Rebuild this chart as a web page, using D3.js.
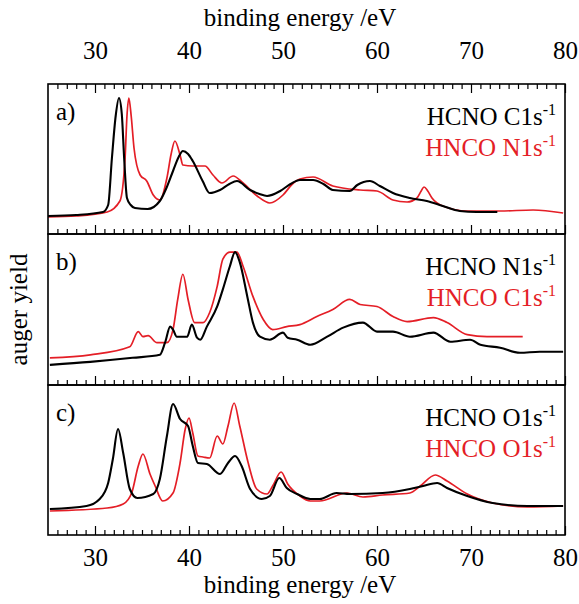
<!DOCTYPE html>
<html>
<head>
<meta charset="utf-8">
<script src="https://cdn.jsdelivr.net/npm/d3@7"></script>
<style>
  body { margin: 0; background: #fff; }
  svg text { font-family: "Liberation Serif", "Times New Roman", serif; fill: #000; }
</style>
</head>
<body>
<div id="chart"></div>
<script>
// tick labels
var majorTicks = [30, 40, 50, 60, 70, 80];

// a) HCNO C1s-1 (black) / HNCO N1s-1 (red)
var aBlackE = [25, 28, 30.85, 31.4, 31.8, 32.2, 32.55, 32.85, 33.1, 33.4, 33.8, 34.25, 35.6, 36.9, 37.6, 38.3, 38.9, 39.35, 39.9, 40.4, 41.45, 42.2, 43.3, 44.3, 45.1, 46.5, 47.5, 48.3, 49.7, 50.8, 51.8, 53.2, 54.3, 55.3, 57.1, 57.9, 59.25, 60.3, 61.7, 63.5, 65.3, 67.0, 68.8, 70.6, 72.8];
var aBlackY = [18, 19, 22, 29, 76, 118, 136, 120, 76, 36, 29, 26, 25, 33, 46, 63, 77, 83, 80, 73, 53, 41, 44, 50, 53, 44, 40, 38, 43, 50, 54, 54, 50, 44, 43, 49, 53, 48, 41, 36, 33, 28, 23, 22, 22];
var aRedE = [25, 28, 31.3, 32.65, 33.2, 33.4, 33.6, 33.85, 34.15, 34.8, 35.5, 36.2, 36.9, 37.65, 38.1, 38.5, 39.05, 39.35, 40.4, 41.7, 42.55, 43.5, 44.7, 45.75, 47.25, 48.6, 50.0, 51.0, 51.8, 53.2, 55.3, 58.2, 60.0, 61.7, 63.2, 64.25, 64.7, 65.0, 65.4, 65.85, 67.0, 69.6, 73.1, 76.6, 79.8];
var aRedY = [17, 18, 22, 33, 76, 118, 136, 118, 86, 59, 53, 39, 34, 56, 80, 93, 79, 69, 68, 68, 59, 51, 58, 51, 38, 31, 39, 50, 55, 57, 48, 44, 43, 34, 32, 36, 43, 47, 43, 36, 28, 23, 23, 24, 21];

// b) HCNO N1s-1 (black) / HNCO C1s-1 (red)
var bBlackE = [25.2, 29.5, 34.0, 36.9, 37.45, 38.0, 38.3, 38.7, 39.8, 40.3, 40.85, 41.2, 41.9, 43.0, 43.6, 44.35, 44.9, 45.4, 46.2, 46.8, 47.55, 48.6, 50.0, 50.5, 51.5, 52.9, 54.7, 56.4, 58.5, 60.0, 61.7, 63.5, 66.0, 67.8, 69.9, 71.0, 73.1, 75.2, 77.3, 79.8];
var bBlackY = [20, 23, 27, 30, 42, 58, 55, 48, 48, 60, 47, 45, 58, 78, 95, 118, 132, 122, 88, 62, 48, 45, 52, 47, 45, 40, 48, 57, 62, 53, 53, 48, 52, 43, 45, 40, 37, 32, 33, 33];
var bRedE = [25.2, 29.5, 33.7, 34.6, 35.1, 35.65, 36.6, 37.65, 38.3, 38.8, 39.35, 39.9, 40.6, 41.5, 42.2, 43.0, 43.6, 44.35, 45.1, 45.75, 46.8, 47.9, 48.9, 50.4, 51.8, 53.6, 55.3, 57.1, 58.2, 60.0, 61.7, 63.2, 66.0, 67.45, 69.6, 71.7, 73.8, 75.5];
var bRedY = [27, 30, 38, 53, 48, 49, 42, 42, 55, 85, 110, 85, 62, 62, 72, 98, 125, 132, 132, 118, 88, 65, 55, 58, 60, 68, 75, 85, 80, 78, 68, 63, 67, 62, 50, 48, 48, 48];

// c) HCNO O1s-1 (black) / HNCO O1s-1 (red)
var cBlackE = [25.2, 29.1, 30.5, 31.4, 31.9, 32.45, 33.0, 33.7, 34.5, 36.2, 36.9, 37.65, 38.3, 39.05, 39.9, 40.4, 40.95, 41.9, 43.3, 44.15, 44.9, 45.6, 46.5, 47.75, 48.6, 49.6, 50.4, 51.5, 52.9, 53.9, 55.7, 57.1, 60.6, 63.5, 64.9, 66.4, 67.45, 69.6, 72.3, 76.0, 79.8];
var cBlackY = [26, 29, 36, 52, 76, 106, 82, 46, 37, 41, 56, 99, 131, 116, 109, 89, 72, 71, 61, 72, 79, 69, 46, 36, 39, 57, 47, 41, 36, 36, 42, 41, 42, 46, 49, 52, 47, 39, 32, 29, 29];
var cRedE = [25.2, 31.3, 33.0, 33.9, 34.6, 35.1, 35.85, 36.4, 37.2, 38.3, 39.05, 39.6, 40.0, 40.4, 40.95, 41.5, 42.2, 43.0, 43.6, 44.15, 44.8, 45.4, 46.3, 47.2, 48.3, 48.9, 49.8, 50.5, 51.8, 52.9, 53.9, 56.8, 58.5, 60.6, 63.5, 64.6, 66.2, 67.45, 69.6, 72.3, 76.0, 79.8];
var cRedY = [24, 27, 31, 42, 69, 81, 61, 49, 34, 42, 72, 106, 117, 102, 79, 78, 77, 99, 91, 109, 132, 109, 72, 46, 41, 49, 63, 51, 39, 34, 34, 42, 38, 40, 42, 49, 60, 54, 41, 32, 28, 29];

var panelLabels = ["a)", "b)", "c)"];
var blackNames = ["HCNO C1s", "HCNO N1s", "HCNO O1s"];
var redNames = ["HNCO N1s", "HNCO C1s", "HNCO O1s"];

var W = 579, H = 604;
var left = 48, right = 565;
var edges = [84, 234, 385, 535];
var red = "#e41e26";
var serif = "'Liberation Serif', 'Times New Roman', serif";

var svg = d3.select("#chart").append("svg")
    .attr("width", W)
    .attr("height", H);

var x = d3.scaleLinear().domain([25, 80]).range([left, right]);

var minorTicks = d3.range(26, 80).filter(function (v) { return v % 10 !== 0; });

var series = [
    [aBlackE, aBlackY, aRedE, aRedY],
    [bBlackE, bBlackY, bRedE, bRedY],
    [cBlackE, cBlackY, cRedE, cRedY]
];

series.forEach(function (s, i) {
    var top = edges[i], bottom = edges[i + 1];
    var y = d3.scaleLinear().domain([0, 150]).range([bottom, top]);
    var g = svg.append("g");

    var line = d3.line()
        .curve(d3.curveMonotoneX)
        .x(function (d) { return x(d[0]); })
        .y(function (d) { return y(d[1]); });

    // red first, black on top
    g.append("path")
        .datum(d3.zip(s[2], s[3]))
        .attr("fill", "none")
        .attr("stroke", red)
        .attr("stroke-width", 1.7)
        .attr("d", line);
    g.append("path")
        .datum(d3.zip(s[0], s[1]))
        .attr("fill", "none")
        .attr("stroke", "#000")
        .attr("stroke-width", 2.1)
        .attr("d", line);

    // bottom ticks pointing up
    var gb = g.append("g").attr("transform", "translate(0," + bottom + ")");
    gb.call(d3.axisBottom(x).tickValues(majorTicks).tickSize(-9).tickPadding(13)
        .tickFormat(i === 2 ? d3.format("d") : ""));
    gb.select(".domain").remove();
    var gbm = g.append("g").attr("transform", "translate(0," + bottom + ")");
    gbm.call(d3.axisBottom(x).tickValues(minorTicks).tickSize(-5).tickFormat(""));
    gbm.select(".domain").remove();

    if (i === 0) {
        var gt = g.append("g").attr("transform", "translate(0," + top + ")");
        gt.call(d3.axisTop(x).tickValues(majorTicks).tickSize(-9).tickPadding(25).tickFormat(d3.format("d")));
        gt.select(".domain").remove();
        var gtm = g.append("g").attr("transform", "translate(0," + top + ")");
        gtm.call(d3.axisTop(x).tickValues(minorTicks).tickSize(-5).tickFormat(""));
        gtm.select(".domain").remove();
    }

    g.selectAll(".tick line").attr("stroke", "#000").attr("stroke-width", 1.2);
    g.selectAll(".tick text").attr("font-size", 25).attr("fill", "#000")
        .style("font-family", serif);

    // frame
    g.append("rect")
        .attr("x", left).attr("y", top)
        .attr("width", right - left).attr("height", bottom - top)
        .attr("fill", "none").attr("stroke", "#000").attr("stroke-width", 1.6);

    // panel label
    g.append("text")
        .attr("x", 56).attr("y", top + 36)
        .attr("font-size", 25)
        .text(panelLabels[i]);

    // legend
    var leg = [[blackNames[i], "#000", top + 41], [redNames[i], red, top + 72]];
    leg.forEach(function (l) {
        var t = g.append("text")
            .attr("x", 556).attr("y", l[2])
            .attr("text-anchor", "end")
            .attr("font-size", 25)
            .style("fill", l[1]);
        t.append("tspan").text(l[0]);
        t.append("tspan").attr("dy", -10).attr("font-size", 16).text("-1");
    });
});

// axis titles
svg.append("text")
    .attr("x", 300).attr("y", 26)
    .attr("text-anchor", "middle")
    .attr("font-size", 25)
    .text("binding energy /eV");
svg.append("text")
    .attr("x", 300).attr("y", 593)
    .attr("text-anchor", "middle")
    .attr("font-size", 25)
    .text("binding energy /eV");
svg.append("text")
    .attr("transform", "translate(27," + (edges[0] + edges[3]) / 2 + ") rotate(-90)")
    .attr("text-anchor", "middle")
    .attr("font-size", 25)
    .text("auger yield");
</script>
</body>
</html>
